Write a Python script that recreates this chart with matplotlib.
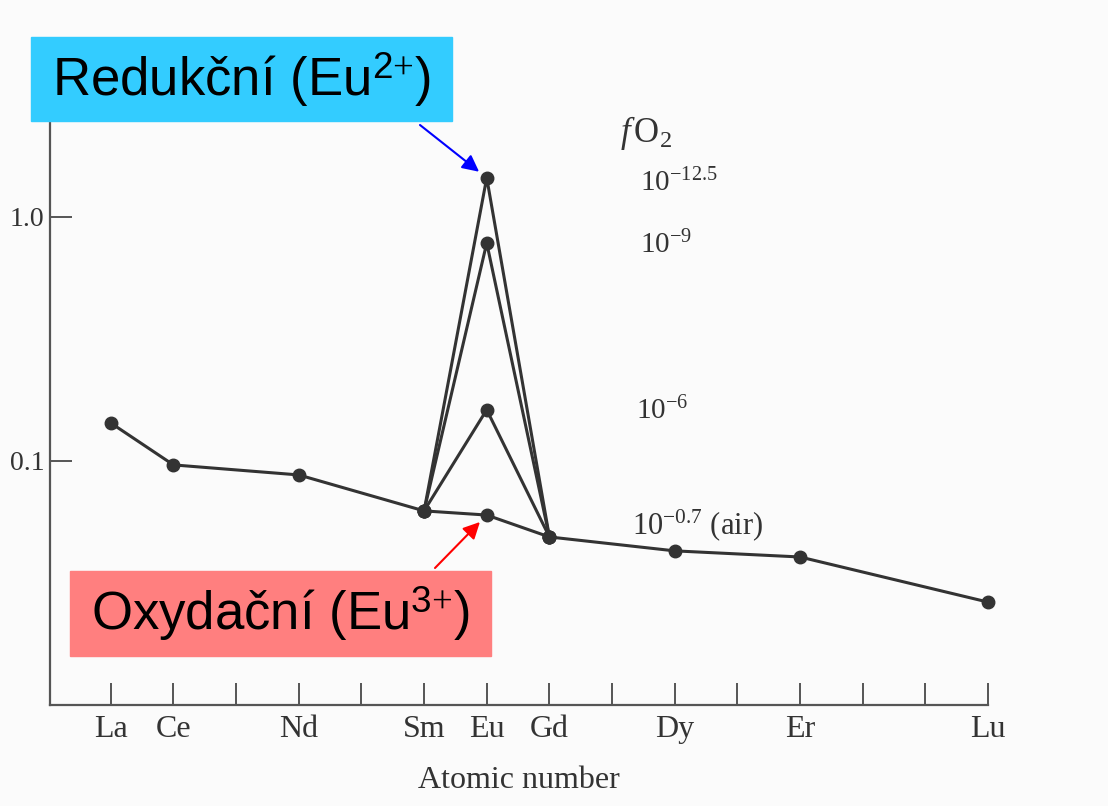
import matplotlib.pyplot as plt
from matplotlib.patches import Rectangle

# data
elements = ['La', 'Ce', 'Nd', 'Sm', 'Eu', 'Gd', 'Dy', 'Er', 'Lu']
z = [57, 58, 60, 62, 63, 64, 66, 68, 71]
air = [0.143, 0.0963, 0.0876, 0.0624, 0.060, 0.0488, 0.0428, 0.0404, 0.0264]

# Eu anomaly for lower oxygen fugacity (Sm, Eu, Gd)
peak_z = [62, 63, 64]
fo2_6 = [0.0624, 0.162, 0.0488]
fo2_9 = [0.0624, 0.781, 0.0488]
fo2_125 = [0.0624, 1.445, 0.0488]

plt.rcParams['mathtext.fontset'] = 'custom'
plt.rcParams['mathtext.rm'] = 'Liberation Serif'
plt.rcParams['mathtext.it'] = 'Liberation Serif:italic'
plt.rcParams['mathtext.sf'] = 'Liberation Sans'
plt.rcParams['mathtext.default'] = 'rm'

W, H = 1108, 806
fig = plt.figure(figsize=(W / 100, H / 100), dpi=100)
fig.patch.set_facecolor('#fbfbfb')
ax = fig.add_axes([50 / W, 1 - 705 / H, 938 / W, 665 / H])
ax.set_facecolor('#fbfbfb')

ink = '#333333'
for ys in [fo2_125, fo2_9, fo2_6]:
    ax.plot(peak_z, ys, '-o', color=ink, lw=2.2, ms=9, clip_on=False)
ax.plot(z, air, '-o', color=ink, lw=2.2, ms=9, clip_on=False, zorder=3)

ax.set_yscale('log')
ax.set_ylim(0.01, 5.3)
ax.set_xlim(56.03, 71)

ax.spines['top'].set_visible(False)
ax.spines['right'].set_visible(False)
for s in ['left', 'bottom']:
    ax.spines[s].set_color('#555555')
    ax.spines[s].set_linewidth(1.6)

ax.set_yticks([0.1, 1.0])
ax.set_yticklabels(['0.1', '1.0'])
ax.yaxis.set_minor_locator(plt.NullLocator())
ax.set_xticks(range(57, 72))
ax.set_xticklabels([elements[z.index(i)] if i in z else '' for i in range(57, 72)])
ax.tick_params(axis='both', direction='in', length=16, width=1.4, color='#555555',
               labelcolor=ink)
ax.tick_params(axis='x', pad=7)
ax.tick_params(axis='y', pad=4)
for lab in ax.get_xticklabels():
    lab.set_family('Liberation Serif')
    lab.set_fontsize(23)
for lab in ax.get_yticklabels():
    lab.set_family('Liberation Serif')
    lab.set_fontsize(20)
ax.set_xlabel('Atomic number', family='Liberation Serif', fontsize=23, color=ink,
              labelpad=16)

# fO2 labels
def ftext(x, y, s, size=21):
    fig.text(x / W, 1 - y / H, s, fontsize=size, color=ink, va='center', ha='left',
             family='Liberation Serif')

ftext(620, 133, r'$\mathit{f}\,$O$_2$', size=25)
ftext(640, 183, r'10$^{-12.5}$')
ftext(640, 245, r'10$^{-9}$')
ftext(636, 411, r'10$^{-6}$')
ftext(632, 525, r'10$^{-0.7}$ (air)', size=22)

# highlighted boxes
fig.add_artist(Rectangle((31 / W, 1 - 121 / H), 421 / W, 84 / H,
                         transform=fig.transFigure, color='#33ccff', zorder=5))
fig.text(241 / W, 1 - 80 / H, 'Redukční (Eu$^{\\mathsf{2}{+}}$)', fontsize=38,
         family='Liberation Sans', ha='center', va='center', zorder=6)
fig.add_artist(Rectangle((70 / W, 1 - 656 / H), 421 / W, 85 / H,
                         transform=fig.transFigure, color='#ff7f7f', zorder=5))
fig.text(280 / W, 1 - 614 / H, 'Oxydační (Eu$^{\\mathsf{3}{+}}$)', fontsize=38,
         family='Liberation Sans', ha='center', va='center', zorder=6)

ax.annotate('', xy=(63, fo2_125[1]), xytext=(420, H - 125), textcoords='figure pixels',
            arrowprops=dict(arrowstyle='-|>', color='blue', lw=1.5, mutation_scale=25,
                            shrinkA=0, shrinkB=7))
ax.annotate('', xy=(63, air[4]), xytext=(435, H - 568), textcoords='figure pixels',
            arrowprops=dict(arrowstyle='-|>', color='red', lw=1.5, mutation_scale=25,
                            shrinkA=0, shrinkB=7))

fig.savefig('out.png', dpi=100, facecolor=fig.get_facecolor())
